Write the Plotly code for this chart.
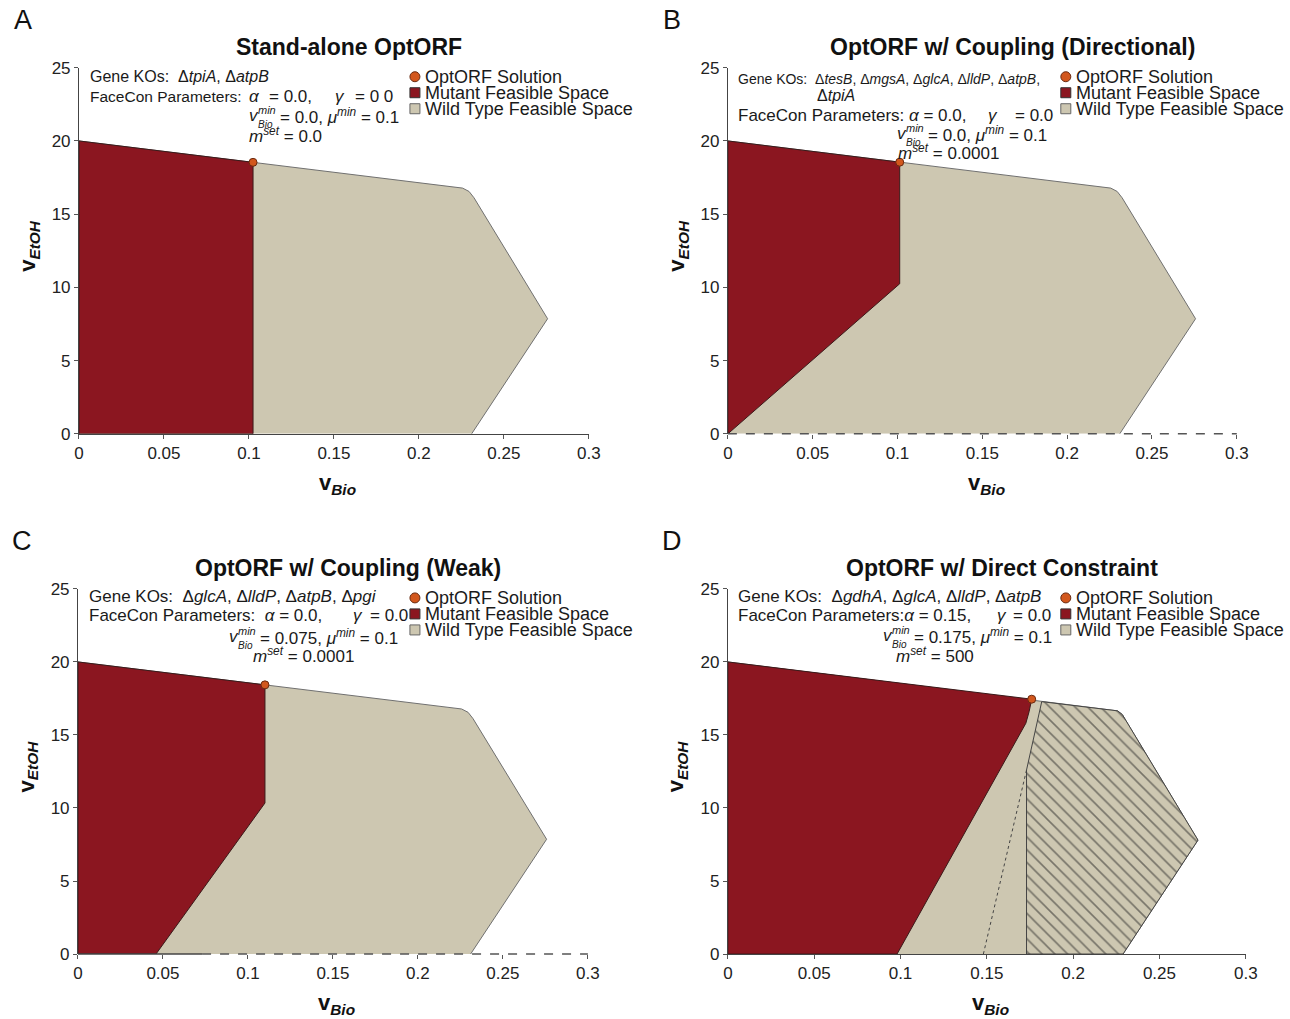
import plotly.graph_objects as go

W, H = 1290, 1019
FONT = "Liberation Sans, Arial, sans-serif"
WT_COLOR = "#cdc7b1"
MUT_COLOR = "#8b1620"
SOL_COLOR = "#d2571d"
TXT = "#1a1a1a"

# ---------------- data ----------------
# Wild type feasible space (panels A-C)
wt_x = [0, 0.2257, 0.2295, 0.2324, 0.2757, 0.2310, 0, 0]
wt_y = [20, 16.78, 16.55, 16.12, 7.86, 0, 0, 20]
# Wild type feasible space as read in panel D
wtD_x = [0, 0.2257, 0.2285, 0.2305, 0.2723, 0.2289, 0, 0]
wtD_y = [20, 16.65, 16.4, 16.0, 7.8, 0, 0, 20]

# Mutant feasible spaces
mutA_x = [0, 0.1024, 0.1024, 0, 0]
mutA_y = [20, 18.54, 0, 0, 20]
mutB_x = [0, 0.1013, 0.1013, 0, 0]
mutB_y = [20, 18.55, 10.25, 0, 20]
mutC_x = [0, 0.110, 0.110, 0.0459, 0, 0]
mutC_y = [20, 18.43, 10.34, 0, 0, 20]
mutD_x = [0, 0.1760, 0.1745, 0.1726, 0.098, 0, 0]
mutD_y = [20, 17.45, 16.6, 15.8, 0, 0, 20]

# Hatched region (panel D)
hatch_x = [0.173, 0.173, 0.1818, 0.2257, 0.2285, 0.2305, 0.2723, 0.2289, 0.173]
hatch_y = [0, 12.6, 17.28, 16.65, 16.4, 16.0, 7.8, 0, 0]
# dashed guide (panel D)
guide_x = [0.148, 0.173]
guide_y = [0, 12.6]

# OptORF solutions
sol_x = [0.1024, 0.1013, 0.110, 0.176]
sol_y = [18.54, 18.55, 18.43, 17.45]

xticks = [0, 0.05, 0.1, 0.15, 0.2, 0.25, 0.3]
xticklabels = ["0", "0.05", "0.1", "0.15", "0.2", "0.25", "0.3"]
yticks = [0, 5, 10, 15, 20, 25]

panel_titles = ["Stand-alone OptORF", "OptORF w/ Coupling (Directional)",
                "OptORF w/ Coupling (Weak)", "OptORF w/ Direct Constraint"]
panel_letters = ["A", "B", "C", "D"]
legend_labels = ["OptORF Solution", "Mutant Feasible Space", "Wild Type Feasible Space"]

# pixel boxes of plot areas: x0, x1, ytop, ybottom
boxes = [(78, 588, 68, 434), (727, 1236, 68, 434),
         (77, 587, 589, 954), (727, 1245, 589, 954)]

# correction for the capture's slight rescaling
AX, BX = 0.987, 4.0
AY, BY = 0.981, 9.3

fig = go.Figure()
annotations = []
shapes = []


def px(x):
    return ((x - BX) / AX) / W


def py(y):
    return 1 - ((y - BY) / AY) / H


def T(x, y, text, size=16, xa="left", ya="middle", color=TXT, **kw):
    annotations.append(dict(x=px(x), y=py(y), xref="paper", yref="paper", text=text,
                            showarrow=False, xanchor=xa, yanchor=ya,
                            font=dict(size=size, family=FONT, color=color), **kw))


mut_list = [(mutA_x, mutA_y), (mutB_x, mutB_y), (mutC_x, mutC_y), (mutD_x, mutD_y)]

layout_axes = {}
for i, (x0, x1, yt, yb) in enumerate(boxes):
    n = "" if i == 0 else str(i + 1)
    xa, ya = "x" + n, "y" + n
    layout_axes["xaxis" + n] = dict(
        domain=[max(0, px(x0)), min(1, px(x1))], range=[0, 0.3], anchor=ya,
        tickvals=xticks, ticktext=xticklabels, ticks="outside", ticklen=4,
        tickcolor="#555", showline=(i in (0, 3)), linecolor="#444", linewidth=1,
        showgrid=False, zeroline=False,
        tickfont=dict(size=17, family=FONT, color="#222"))
    layout_axes["yaxis" + n] = dict(
        domain=[max(0, py(yb)), min(1, py(yt))], range=[0, 25], anchor=xa,
        tickvals=yticks, ticks="outside", ticklen=4, tickcolor="#555",
        showline=True, linecolor="#444", linewidth=1, showgrid=False, zeroline=False,
        tickfont=dict(size=17, family=FONT, color="#222"))

    wx, wy = (wtD_x, wtD_y) if i == 3 else (wt_x, wt_y)
    # wild type fill, outline without the bottom edge
    fig.add_trace(go.Scatter(x=wx, y=wy, xaxis=xa, yaxis=ya, mode="lines",
                             fill="toself", fillcolor=WT_COLOR,
                             line=dict(color=WT_COLOR, width=0), hoverinfo="skip",
                             showlegend=False))
    fig.add_trace(go.Scatter(x=wx[:6], y=wy[:6], xaxis=xa, yaxis=ya, mode="lines",
                             line=dict(color="#707070", width=1), hoverinfo="skip",
                             showlegend=False))
    if i == 3:
        fig.add_trace(go.Scatter(x=hatch_x, y=hatch_y, xaxis=xa, yaxis=ya, mode="lines",
                                 fill="toself", fillcolor=WT_COLOR,
                                 fillpattern=dict(shape="\\", fgcolor="#222222",
                                                  bgcolor=WT_COLOR, size=9, solidity=0.18),
                                 line=dict(color="#444", width=1), hoverinfo="skip",
                                 showlegend=False))
        fig.add_trace(go.Scatter(x=guide_x, y=guide_y, xaxis=xa, yaxis=ya, mode="lines",
                                 line=dict(color="#444", width=1, dash="dot"),
                                 hoverinfo="skip", showlegend=False))
    mx, my = mut_list[i]
    fig.add_trace(go.Scatter(x=mx, y=my, xaxis=xa, yaxis=ya, mode="lines",
                             fill="toself", fillcolor=MUT_COLOR,
                             line=dict(color="#3a1a1a", width=1), hoverinfo="skip",
                             showlegend=False))
    fig.add_trace(go.Scatter(x=[sol_x[i]], y=[sol_y[i]], xaxis=xa, yaxis=ya, mode="markers",
                             marker=dict(color=SOL_COLOR, size=8,
                                         line=dict(color="#6a2a10", width=1)),
                             hoverinfo="skip", showlegend=False))

    # axis decorations (dashed baselines, drawn in paper space so they are not clipped)
    xlen = x1 - x0
    if i == 1:
        shapes.append(dict(type="line", xref="paper", yref="paper",
                           x0=px(x0), x1=px(x1), y0=py(yb), y1=py(yb),
                           line=dict(color="#555", width=1.5, dash="dash")))
    if i == 2:
        xs = x0 + xlen * 0.073 / 0.3
        shapes.append(dict(type="line", xref="paper", yref="paper",
                           x0=px(x0), x1=px(xs), y0=py(yb), y1=py(yb),
                           line=dict(color="#444", width=1.5)))
        shapes.append(dict(type="line", xref="paper", yref="paper",
                           x0=px(xs), x1=px(x1), y0=py(yb), y1=py(yb),
                           line=dict(color="#555", width=1.5, dash="dash")))

    # titles / letters / axis titles
    T((x0 + x1) / 2 + 15 if i != 1 else 1012, yt - 21, "<b>" + panel_titles[i] + "</b>",
      size=23, xa="center", color="#111")
    T(x0 - 56, yt - 48, panel_letters[i], size=27, xa="center", color="#111")
    T((x0 + x1) / 2 + 4, yb + 50,
      "<b>v</b><sub><b><i>Bio</i></b></sub>", size=22, xa="center", color="#111")
    T(x0 - 50, (yt + yb) / 2 - 5,
      "<b>v</b><sub><b><i>EtOH</i></b></sub>", size=22, xa="center", color="#111",
      textangle=-90)

    # legend (symbols + text)
    lx = 414 if i in (0, 2) else 1065
    ly = yt + 9
    shapes.append(dict(type="circle", xref="paper", yref="paper",
                       x0=px(lx - 5), x1=px(lx + 5), y0=py(ly + 5), y1=py(ly - 5),
                       fillcolor=SOL_COLOR, line=dict(color="#6a2a10", width=1)))
    shapes.append(dict(type="rect", xref="paper", yref="paper",
                       x0=px(lx - 5), x1=px(lx + 5), y0=py(ly + 16 + 5), y1=py(ly + 16 - 5),
                       fillcolor=MUT_COLOR, line=dict(color="#333", width=1)))
    shapes.append(dict(type="rect", xref="paper", yref="paper",
                       x0=px(lx - 5), x1=px(lx + 5), y0=py(ly + 32 + 5), y1=py(ly + 32 - 5),
                       fillcolor=WT_COLOR, line=dict(color="#666", width=1)))
    for k, lab in enumerate(legend_labels):
        T(lx + 8, ly + 16 * k, lab, size=18)


def vmin_block(xv, y, rest, size=17):
    T(xv, y, "<i>v</i>", size=size)
    T(xv + 9, y - 6, "<i>min</i>", size=11)
    T(xv + 9, y + 9, "<i>Bio</i>", size=10)
    T(xv + 31, y, rest, size=size)


def mset_block(xm, y, rest, size=17):
    T(xm, y, "<i>m</i><sup><i>set</i></sup>" + rest, size=size)


MU = "<i>μ</i><sup><i>min</i></sup>"

# Panel A
T(87, 77, "Gene KOs:  Δ<i>tpiA</i>, Δ<i>atpB</i>", size=16)
T(87, 97, "FaceCon Parameters:", size=15.5)
T(246, 97, "<i>α</i>", size=17)
T(266, 97, "= 0.0,", size=17)
T(332, 97, "<i>γ</i>", size=17)
T(352, 97, "= 0 0", size=17)
vmin_block(246, 116, "= 0.0, " + MU + " = 0.1")
mset_block(246, 135, " = 0.0")

# Panel B
T(735, 79, "Gene KOs:  Δ<i>tesB</i>, Δ<i>mgsA</i>, Δ<i>glcA</i>, Δ<i>lldP</i>, Δ<i>atpB</i>,", size=14)
T(814, 96, "Δ<i>tpiA</i>", size=16)
T(735, 116, "FaceCon Parameters: <i>α</i> = 0.0,", size=17)
T(985, 116, "<i>γ</i>", size=17)
T(1012, 116, "= 0.0", size=17)
vmin_block(894, 134, "= 0.0, " + MU + " = 0.1")
mset_block(895, 152, " = 0.0001")

# Panel C
T(86, 597, "Gene KOs:  Δ<i>glcA</i>, Δ<i>lldP</i>, Δ<i>atpB</i>, Δ<i>pgi</i>", size=17)
T(86, 616, "FaceCon Parameters:  <i>α</i> = 0.0,", size=17)
T(350, 616, "<i>γ</i>", size=17)
T(367, 616, "= 0.0", size=17)
vmin_block(226, 637, "= 0.075, " + MU + " = 0.1")
mset_block(250, 655, " = 0.0001")

# Panel D
T(735, 597, "Gene KOs:  Δ<i>gdhA</i>, Δ<i>glcA</i>, Δ<i>lldP</i>, Δ<i>atpB</i>", size=17)
T(735, 616, "FaceCon Parameters:<i>α</i> = 0.15,", size=17)
T(994, 616, "<i>γ</i>", size=17)
T(1010, 616, "= 0.0", size=17)
vmin_block(880, 636, "= 0.175, " + MU + " = 0.1")
mset_block(893, 655, " = 500")

fig.update_layout(width=W, height=H, margin=dict(l=0, r=0, t=0, b=0),
                  paper_bgcolor="white", plot_bgcolor="white",
                  annotations=annotations, shapes=shapes, showlegend=False,
                  font=dict(family=FONT), **layout_axes)

fig.write_html("out.html", config={"displayModeBar": False},
               post_script="document.body.style.margin='0px';"
                           "document.body.style.overflow='hidden';")
